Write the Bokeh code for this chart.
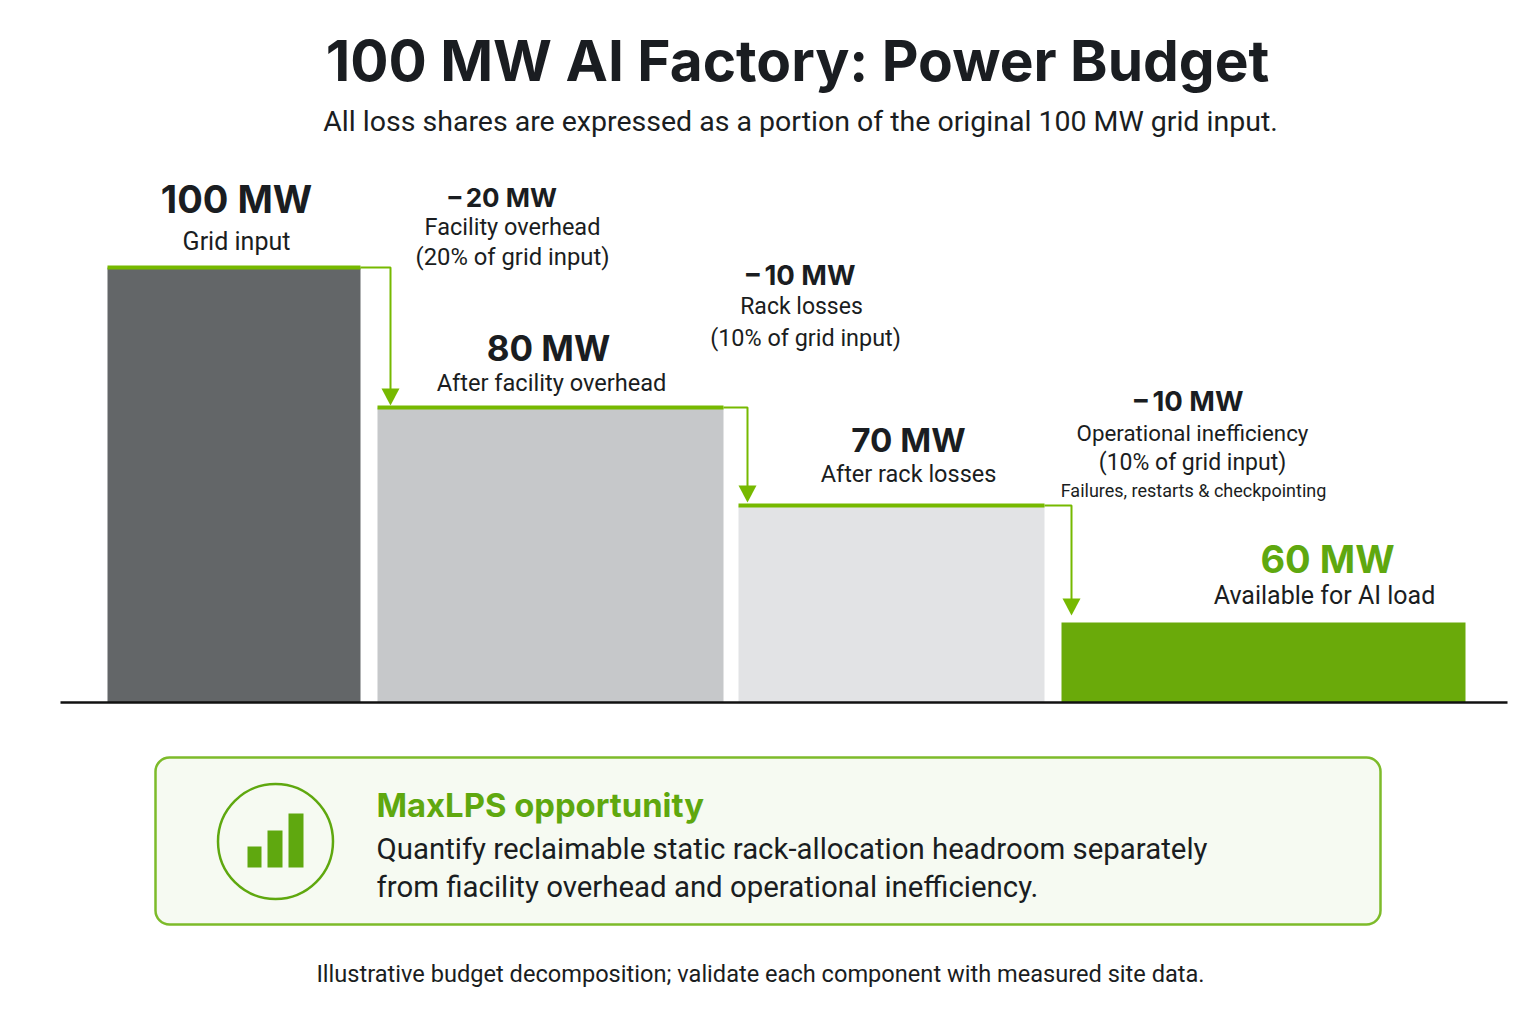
from bokeh.core.properties import value
from bokeh.embed import file_html
from bokeh.models import BoxAnnotation, Range1d
from bokeh.plotting import figure
from bokeh.resources import INLINE

# values (drawn heights are not to scale with the MW figures)
stages = ["Grid input", "After facility overhead", "After rack losses", "Available for AI load"]
stage_mw = [100, 80, 70, 60]
drawn_height = [100, 67.8, 45.3, 18.4]
loss_mw = [20, 10, 10]
loss_names = ["Facility overhead", "Rack losses", "Operational inefficiency"]
loss_share = [20, 10, 10]
icon_bars = [21, 37, 54]

bar_colors = ["#636668", "#c6c8ca", "#e2e3e5", "#6aaa0a"]
bar_left = [107, 377, 738, 1061]
bar_right = [360, 723, 1044, 1465]
arrow_x = [390, 747, 1071]
arrow_tip = [405, 502, 615]

GREEN = "#76b900"
DARK_GREEN = "#5fa80f"
INK = "#1a1d21"
HEAD = "Inter"
BODY = "Roboto"

# y is drawn units on the main range, picture pixels on the "page" range
unit = 4.35
base = 702
p = figure(width=1520, height=1008, output_backend="svg", toolbar_location=None,
           x_range=Range1d(0, 1520), y_range=Range1d((base - 1008) / unit, base / unit),
           x_axis_location=None, y_axis_location=None, min_border=0, outline_line_color=None)
p.grid.visible = False
p.extra_y_ranges = {"page": Range1d(1008, 0)}


def label(x, y, text, size, color=INK, style="normal", align="center", font=BODY):
    # the svg text lands a bit under the asked baseline
    p.text([x], [y - 0.37 * size], text=[text], y_range_name="page", text_font=value(font),
           text_font_size=f"{size}px", text_font_style=style, text_color=color,
           text_align=align, text_baseline="alphabetic")


# callout box goes under everything else
p.add_layout(BoxAnnotation(left=155, right=1380, top=757, bottom=924, y_range_name="page", level="underlay",
                           fill_color="#f6faf2", fill_alpha=1, line_color="#7dbb2a", line_alpha=1, line_width=2.5,
                           border_radius=14))

# bars
p.quad(left=bar_left, right=bar_right, bottom=[0] * 4, top=drawn_height, fill_color=bar_colors, line_color=None)
p.segment(x0=bar_left[:3], x1=bar_right[:3], y0=drawn_height[:3], y1=drawn_height[:3], line_color=GREEN, line_width=4)
p.segment(x0=[60], x1=[1507], y0=[0], y1=[0], line_color="#111111", line_width=2.5)

# connectors and arrow heads
for i in range(3):
    top_px = base - drawn_height[i] * unit
    p.line([bar_right[i], arrow_x[i], arrow_x[i]], [top_px, top_px, arrow_tip[i] - 15],
           y_range_name="page", line_color=GREEN, line_width=2)
    p.patch([arrow_x[i] - 9, arrow_x[i] + 9, arrow_x[i]],
            [arrow_tip[i] - 17, arrow_tip[i] - 17, arrow_tip[i]],
            y_range_name="page", fill_color=GREEN, line_color=None)

# titles
label(797, 81, "100 MW AI Factory: Power Budget", 56.8, style="bold", font=HEAD)
label(800, 132, "All loss shares are expressed as a portion of the original 100 MW grid input.", 28.5)

# stage labels
stage_x = [236, 548, 908, 1327]
stage_num_y = [213, 360, 452, 573]
stage_num_size = [38, 35, 33.2, 38]
stage_txt_x = [236, 551, 908, 1324]
stage_txt_y = [250, 391, 482, 604]
stage_txt_size = [25, 23.6, 23.5, 25]
for i in range(4):
    label(stage_x[i], stage_num_y[i], f"{stage_mw[i]} MW", stage_num_size[i],
          color=DARK_GREEN if i == 3 else INK, style="bold", font=HEAD)
    label(stage_txt_x[i], stage_txt_y[i], stages[i], stage_txt_size[i])

# loss labels
loss_head_x = [501, 799, 1187]
loss_head_y = [207, 285, 411]
loss_head_size = [26, 27.5, 27.5]
loss_name_x = [512, 801, 1192]
loss_name_y = [235, 315, 441]
loss_name_size = [23.5, 23, 22.3]
loss_pct_x = [512, 805, 1192]
loss_pct_y = [265, 346, 471]
loss_pct_size = [23.8, 23.4, 23]
for i in range(3):
    label(loss_head_x[i], loss_head_y[i], f"\u2212\u200a{loss_mw[i]} MW", loss_head_size[i], style="bold", font=HEAD)
    label(loss_name_x[i], loss_name_y[i], loss_names[i], loss_name_size[i])
    label(loss_pct_x[i], loss_pct_y[i], f"({loss_share[i]}% of grid input)", loss_pct_size[i])
label(1193, 497, "Failures, restarts & checkpointing", 18)

# callout contents
p.circle([275], [841], radius=57.5, y_range_name="page", fill_color=None, line_color=DARK_GREEN, line_width=2.5)
p.quad(left=[247, 267, 288], right=[261, 282, 303], bottom=[867] * 3,
       top=[867 - h for h in icon_bars], y_range_name="page", fill_color=DARK_GREEN, line_color=None)
label(376, 817, "MaxLPS opportunity", 32.8, color=DARK_GREEN, style="bold", align="left", font=HEAD)
label(376, 859, "Quantify reclaimable static rack-allocation headroom separately", 29.4, align="left")
label(376, 897, "from fiacility overhead and operational inefficiency.", 29.4, align="left")

# footer
label(760, 982, "Illustrative budget decomposition; validate each component with measured site data.", 23.6)

open("out.html", "w").write(file_html(p, INLINE))
